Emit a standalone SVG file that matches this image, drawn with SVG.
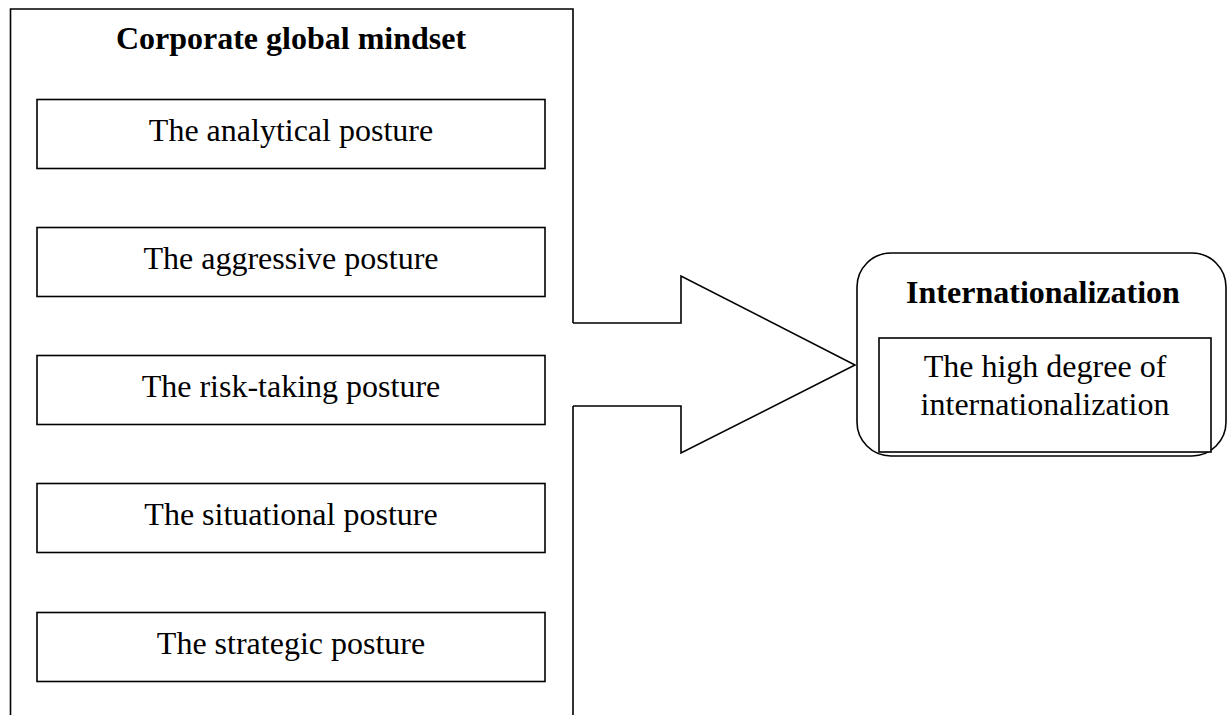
<svg xmlns="http://www.w3.org/2000/svg" width="1227" height="715" viewBox="0 0 1227 715">
  <style>
    .ln { fill: none; stroke: #000; stroke-width: 1.6; }
    .box { fill: #fff; stroke: #000; stroke-width: 1.6; }
    .t { font-family: "Liberation Serif", "Times New Roman", serif; font-size: 32px; fill: #000; text-anchor: middle; }
    .b { font-weight: bold; }
  </style>
  <rect width="1227" height="715" fill="#fff"/>
  <g id="corporate-global-mindset">
    <path class="ln" d="M10.5,720 V9 H573 V323 M573,406 V720"/>
    <text class="t b" x="291" y="49">Corporate global mindset</text>
  </g>
  <g id="analytical-posture">
    <rect class="box" x="37" y="99.5" width="508" height="69"/>
    <text class="t" x="291" y="141">The analytical posture</text>
  </g>
  <g id="aggressive-posture">
    <rect class="box" x="37" y="227.5" width="508" height="69"/>
    <text class="t" x="291" y="269">The aggressive posture</text>
  </g>
  <g id="risk-taking-posture">
    <rect class="box" x="37" y="355.5" width="508" height="69"/>
    <text class="t" x="291" y="397">The risk-taking posture</text>
  </g>
  <g id="situational-posture">
    <rect class="box" x="37" y="483.5" width="508" height="69"/>
    <text class="t" x="291" y="525">The situational posture</text>
  </g>
  <g id="strategic-posture">
    <rect class="box" x="37" y="612.5" width="508" height="69"/>
    <text class="t" x="291" y="654">The strategic posture</text>
  </g>
  <g id="internationalization">
    <rect class="box" x="857" y="253" width="369" height="203" rx="34" ry="34"/>
    <text class="t b" x="1043" y="303">Internationalization</text>
  </g>
  <g id="high-degree">
    <rect class="box" x="879" y="338" width="332" height="114"/>
    <text class="t" x="1045" y="377">The high degree of</text>
    <text class="t" x="1045" y="415">internationalization</text>
  </g>
  <g id="connectors">
    <path class="ln" d="M573,323 H681 V276 L855,365 L681,453 V406 H573"/>
  </g>
</svg>
